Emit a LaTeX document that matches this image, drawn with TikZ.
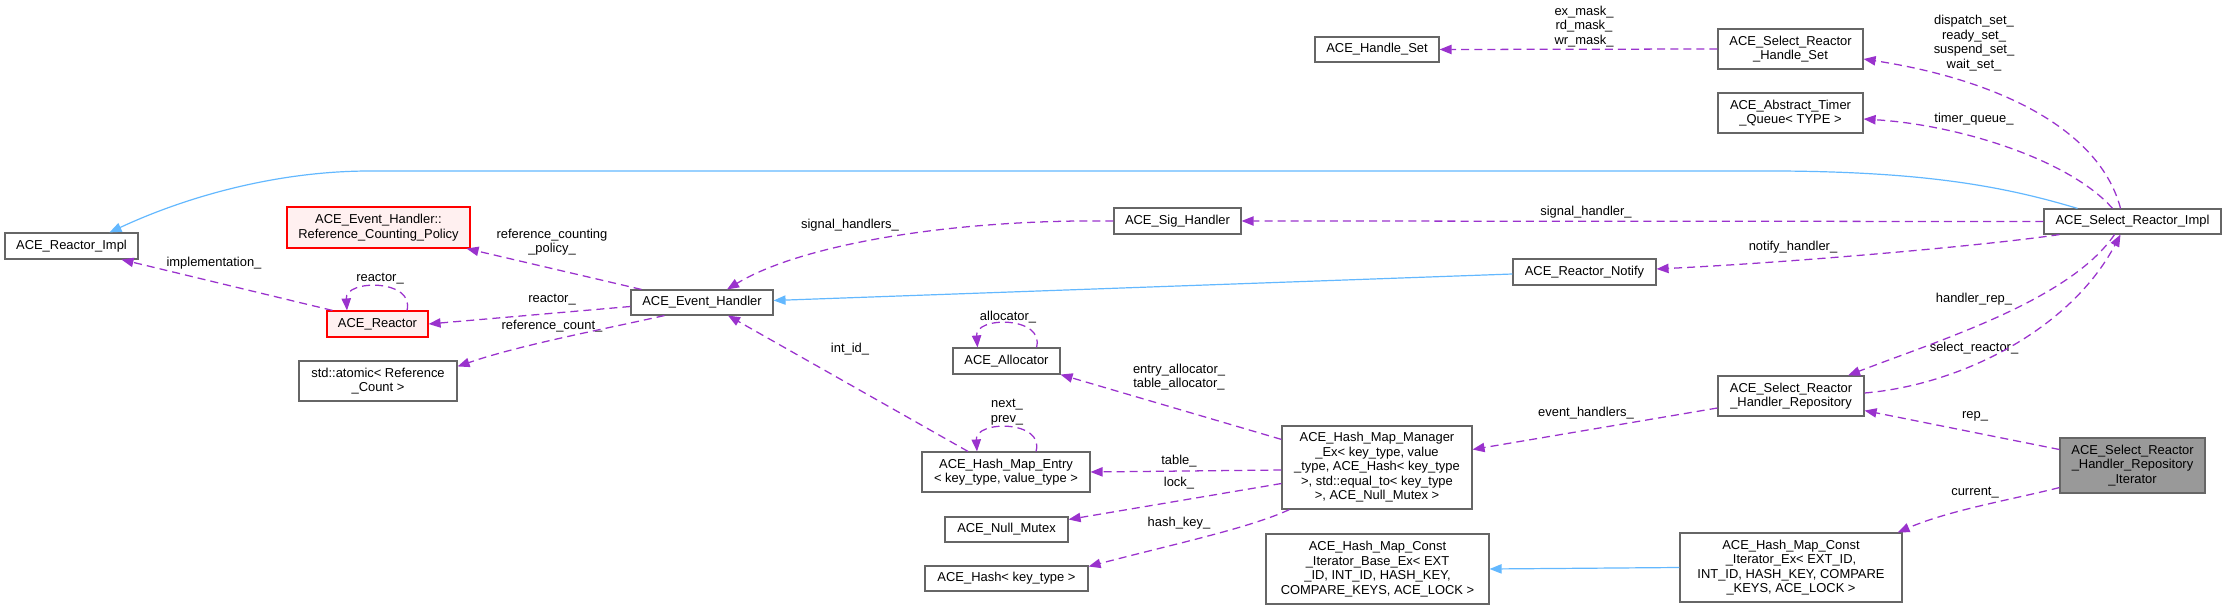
\documentclass[tikz,border=0pt]{standalone}
\usepackage{fontspec}
\setmainfont{Liberation Sans}
\usetikzlibrary{calc,arrows.meta}
\definecolor{edgepurple}{HTML}{9A32CD}
\definecolor{edgeblue}{HTML}{63B8FF}
\definecolor{boxgray}{HTML}{666666}
\definecolor{redfill}{HTML}{FFF0F0}
\definecolor{curfill}{HTML}{999999}
\tikzset{
    cls/.style={draw=boxgray,fill=white,line width=0.85pt,inner sep=0pt,align=center},
    clsred/.style={cls,draw=red,fill=redfill},
    clscur/.style={cls,fill=curfill},
    sz/.style 2 args={minimum width=#1*0.75pt,minimum height=#2*0.75pt},
    inherit/.style={draw=edgeblue,line width=0.9pt,-{Triangle[length=9pt,width=7pt]}},
    member/.style={draw=edgepurple,line width=0.95pt,dash pattern=on 6pt off 3.8pt,-{Triangle[length=9pt,width=7pt]}},
    lbl/.style={inner sep=0pt,align=center}
}
\begin{document}
\begin{tikzpicture}[x=0.75pt,y=-0.75pt,font=\fontsize{9.7pt}{10.9pt}\selectfont]
\useasboundingbox (0,0) rectangle (2227,609);
\node[cls,sz={133}{26}] (impl) at (71.5,246) {ACE\_Reactor\_Impl};
\node[clsred,sz={183}{41}] (rcp) at (378.5,227.5) {ACE\_Event\_Handler::\\Reference\_Counting\_Policy};
\node[clsred,sz={101}{26}] (reactor) at (377.5,324) {ACE\_Reactor};
\node[cls,sz={142}{25}] (evh) at (702,302.5) {ACE\_Event\_Handler};
\node[cls,sz={158}{40}] (atomic) at (378,381) {std::atomic< Reference\\\_Count >};
\node[cls,sz={127}{26}] (sighandler) at (1177.5,221) {ACE\_Sig\_Handler};
\node[cls,sz={107}{26}] (alloc) at (1006.5,361) {ACE\_Allocator};
\node[cls,sz={168}{40}] (entry) at (1006,472) {ACE\_Hash\_Map\_Entry\\< key\_type, value\_type >};
\node[cls,sz={123}{25}] (mutex) at (1006.5,529.5) {ACE\_Null\_Mutex};
\node[cls,sz={163}{25}] (keyhash) at (1006.5,578.5) {ACE\_Hash< key\_type >};
\node[cls,sz={190}{83}] (manager) at (1377,467.5) {ACE\_Hash\_Map\_Manager\\\_Ex< key\_type, value\\\_type, ACE\_Hash< key\_type\\>, std::equal\_to< key\_type\\>, ACE\_Null\_Mutex >};
\node[cls,sz={223}{70}] (cbase) at (1377.5,569) {ACE\_Hash\_Map\_Const\\\_Iterator\_Base\_Ex< EXT\\\_ID, INT\_ID, HASH\_KEY,\\COMPARE\_KEYS, ACE\_LOCK >};
\node[cls,sz={222}{69}] (citer) at (1791,567.5) {ACE\_Hash\_Map\_Const\\\_Iterator\_Ex< EXT\_ID,\\INT\_ID, HASH\_KEY, COMPARE\\\_KEYS, ACE\_LOCK >};
\node[cls,sz={146}{40}] (repo) at (1791,396) {ACE\_Select\_Reactor\\\_Handler\_Repository};
\node[clscur,sz={145}{55}] (iter) at (2132.5,465.5) {ACE\_Select\_Reactor\\\_Handler\_Repository\\\_Iterator};
\node[cls,sz={143}{26}] (notify) at (1584.5,272) {ACE\_Reactor\_Notify};
\node[cls,sz={177}{25}] (selimpl) at (2132.5,221.5) {ACE\_Select\_Reactor\_Impl};
\node[cls,sz={124}{25}] (handleset) at (1377,49.5) {ACE\_Handle\_Set};
\node[cls,sz={145}{40}] (selhset) at (1790.5,49) {ACE\_Select\_Reactor\\\_Handle\_Set};
\node[cls,sz={145}{40}] (timerq) at (1790.5,113) {ACE\_Abstract\_Timer\\\_Queue< TYPE >};

\node[lbl] (lmask) at (1584,26.5) {ex\_mask\_\\rd\_mask\_\\wr\_mask\_};
\node[lbl] (lsets) at (1974,43) {dispatch\_set\_\\ready\_set\_\\suspend\_set\_\\wait\_set\_};
\node[lbl] (ltimer) at (1974,119) {timer\_queue\_};
\node[lbl] (lsig) at (1586,212) {signal\_handler\_};
\node[lbl] (lnotify) at (1793,247) {notify\_handler\_};
\node[lbl] (lhrep) at (1974,299) {handler\_rep\_};
\node[lbl] (lsel) at (1974,348) {select\_reactor\_};
\node[lbl] (lrep) at (1975,416) {rep\_};
\node[lbl] (lcur) at (1975,493) {current\_};
\node[lbl] (levents) at (1586,413) {event\_handlers\_};
\node[lbl] (lalloc) at (1179,377) {entry\_allocator\_\\table\_allocator\_};
\node[lbl] (ltable) at (1179,461) {table\_};
\node[lbl] (llock) at (1179,483) {lock\_};
\node[lbl] (lhash) at (1179,523) {hash\_key\_};
\node[lbl] (lnext) at (1007,412) {next\_\\prev\_};
\node[lbl] (lallocself) at (1008,317) {allocator\_};
\node[lbl] (lintid) at (850,349) {int\_id\_};
\node[lbl] (lsigs) at (850,225) {signal\_handlers\_};
\node[lbl] (lpolicy) at (552,242) {reference\_counting\\\_policy\_};
\node[lbl] (lreactor) at (552,300) {reactor\_};
\node[lbl] (lcount) at (552,326) {reference\_count\_};
\node[lbl] (lreactorself) at (380,279) {reactor\_};
\node[lbl] (limpl) at (214,263) {implementation\_};

\draw[inherit] ($(selimpl.north)+(-55,0)$) .. controls (2000,185) and (1920,172) .. (1780,171) -- (370,171) .. controls (280,171) and (190,195) .. ($(impl.north)+(38,0)$);
\draw[inherit] ($(notify.west)+(0,2)$) -- ($(evh.east)+(0,-2)$);
\draw[inherit] (citer.west) -- (cbase.east);

\draw[member] (selhset.west) -- (handleset.east);
\draw[member] ($(selimpl.north)+(-12,0)$) .. controls (2100,130) and (2000,80) .. ($(selhset.east)+(0,10)$);
\draw[member] ($(selimpl.north)+(-20,0)$) .. controls (2070,160) and (1960,125) .. ($(timerq.east)+(0,6)$);
\draw[member] (selimpl.west) -- (sighandler.east);
\draw[member] ($(selimpl.south west)+(16,0)$) .. controls (1990,245) and (1800,262) .. ($(notify.east)+(0,-3)$);
\draw[member] ($(repo.east)+(0,-3)$) .. controls (1960,385) and (2070,330) .. ($(selimpl.south)+(-12,0)$);
\draw[member] ($(selimpl.south)+(-18,0)$) .. controls (2070,300) and (1940,340) .. ($(repo.north)+(57,0)$);
\draw[member] ($(iter.west)+(0,-16)$) -- ($(repo.south east)+(0,-6)$);
\draw[member] ($(iter.south west)+(0,-6)$) .. controls (2010,500) and (1950,510) .. ($(citer.north east)+(-5,0)$);
\draw[member] ($(repo.west)+(0,12)$) -- ($(manager.east)+(0,-18)$);
\draw[member] ($(manager.north west)+(0,14)$) -- (alloc.south east);
\draw[member] ($(manager.west)+(0,2.5)$) -- (entry.east);
\draw[member] ($(manager.west)+(0,16)$) -- ($(mutex.east)+(0,-10)$);
\draw[member] ($(manager.south west)+(8,0)$) .. controls (1250,528) and (1170,545) .. ($(keyhash.east)+(0,-12)$);
\draw[member] ($(entry.north)+(30,0)$) .. controls (1045,420) and (975,420) .. ($(entry.north)+(-29,0)$);
\draw[member] ($(alloc.north)+(30,0)$) .. controls (1045,316) and (975,316) .. ($(alloc.north)+(-29,0)$);
\draw[member] ($(entry.north)+(-38,0)$) -- ($(evh.south)+(26,0)$);
\draw[member] (sighandler.west) .. controls (950,219) and (800,245) .. ($(evh.north)+(25,0)$);
\draw[member] ($(evh.north west)+(11,0)$) -- ($(rcp.south east)+(-4,0)$);
\draw[member] ($(evh.west)+(0,4)$) -- (reactor.east);
\draw[member] ($(evh.south west)+(34,0)$) .. controls (600,330) and (520,345) .. ($(atomic.north east)+(0,6)$);
\draw[member] ($(reactor.north)+(29.5,0)$) .. controls (415,279) and (345,279) .. ($(reactor.north)+(-30.5,0)$);
\draw[member] ($(reactor.north west)+(6,0)$) -- ($(impl.south)+(50,0)$);
\end{tikzpicture}
\end{document}
